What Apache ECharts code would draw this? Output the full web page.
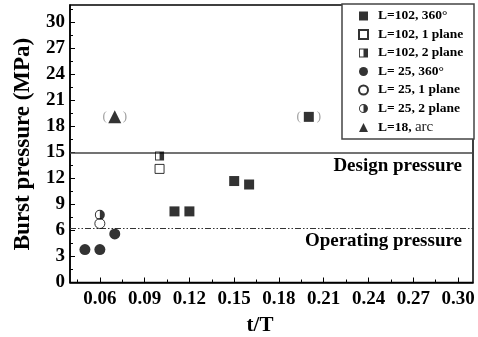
<!DOCTYPE html>
<html><head><meta charset="utf-8">
<script src="https://cdn.jsdelivr.net/npm/echarts@6/dist/echarts.min.js"></script>
<style>html,body{margin:0;padding:0;background:#fff}#c{width:478px;height:337px}</style>
</head><body><div id="c"></div>
<script>
// ---- data ----
const xTicks = [0.06, 0.09, 0.12, 0.15, 0.18, 0.21, 0.24, 0.27, 0.30];
const xMinorTicks = [0.045, 0.075, 0.105, 0.135, 0.165, 0.195, 0.225, 0.255, 0.285];
const yTicks = [0, 3, 6, 9, 12, 15, 18, 21, 24, 27, 30];
const yMinorTicks = [1.5, 4.5, 7.5, 10.5, 13.5, 16.5, 19.5, 22.5, 25.5, 28.5, 31.5];
const seriesNames = ['L=102, 360°', 'L=102, 1 plane', 'L=102, 2 plane', 'L= 25, 360°', 'L= 25, 1 plane', 'L= 25, 2 plane', 'L=18, arc'];
const l102_360 = [[0.11, 8.2], [0.12, 8.2], [0.15, 11.7], [0.16, 11.3]];
const l102_360_paren = [[0.20, 19.1]];
const l102_1p = [[0.10, 13.1]];
const l102_2p = [[0.10, 14.6]];
const l25_360 = [[0.05, 3.8], [0.06, 3.8], [0.07, 5.6]];
const l25_1p = [[0.06, 6.8]];
const l25_2p = [[0.06, 7.8]];
const l18_arc = [[0.07, 19.1]];
const designPressure = 15;
const operatingPressure = 6.2;

const FF = '"Liberation Serif", "Times New Roman", serif';
const halfSquare = 'path://M0,0 L20,0 L20,20 L0,20 Z M2,2 L2,18 L10,18 L10,2 Z';
const halfCircle = 'path://M10,0 A10,10 0 1,1 10,20 A10,10 0 1,1 10,0 Z M10,2 A8,8 0 0,0 10,18 Z';
const parenLabel = {
  show: true, position: 'inside', formatter: '{p|(}{s| }{p|)}',
  rich: { p: { fontFamily: FF, fontSize: 13, color: '#888' }, s: { width: 16 } }
};

const chart = echarts.init(document.getElementById('c'), null, { renderer: 'canvas' });
chart.setOption({
  animation: false,
  backgroundColor: '#fff',
  grid: { left: 70, right: 5, top: 5, bottom: 54.5, show: true, borderColor: '#000', borderWidth: 1.5, backgroundColor: 'transparent' },
  xAxis: [{
    type: 'value', min: 0.04, max: 0.31,
    axisLine: { show: true, onZero: false, lineStyle: { color: '#000', width: 1.5 } },
    axisTick: { show: true, inside: true, length: 5, customValues: xTicks, lineStyle: { color: '#000' } },
    axisLabel: { customValues: xTicks, formatter: v => v.toFixed(2), color: '#000', fontFamily: FF, fontWeight: 'bold', fontSize: 19, margin: 7 },
    splitLine: { show: false }
  }, {
    type: 'value', min: 0.04, max: 0.31, position: 'bottom', gridIndex: 0,
    axisLine: { show: false },
    axisTick: { show: true, inside: true, length: 3, customValues: xMinorTicks, lineStyle: { color: '#000' } },
    axisLabel: { show: false }, splitLine: { show: false }
  }],
  yAxis: [{
    type: 'value', min: 0, max: 32,
    axisLine: { show: true, onZero: false, lineStyle: { color: '#000', width: 1.5 } },
    axisTick: { show: true, inside: true, length: 5, customValues: yTicks, lineStyle: { color: '#000' } },
    axisLabel: { customValues: yTicks, color: '#000', fontFamily: FF, fontWeight: 'bold', fontSize: 19, margin: 5 },
    splitLine: { show: false }
  }, {
    type: 'value', min: 0, max: 32, position: 'left', gridIndex: 0,
    axisLine: { show: false },
    axisTick: { show: true, inside: true, length: 3, customValues: yMinorTicks, lineStyle: { color: '#000' } },
    axisLabel: { show: false }, splitLine: { show: false }
  }],
  legend: {
    orient: 'vertical', left: 358, top: 9, padding: 0, itemGap: 4.5,
    itemWidth: 9, itemHeight: 9,
    data: seriesNames,
    textStyle: { fontFamily: FF, fontWeight: 'bold', fontSize: 13.5, color: '#000', lineHeight: 14, padding: [0, 0, 0, 5],
      rich: { b: { fontFamily: FF, fontWeight: 'bold', fontSize: 13.5, color: '#000' }, r: { fontFamily: FF, fontWeight: 'normal', fontSize: 15, color: '#222' } } },
    formatter: n => n === 'L=18, arc' ? '{b|L=18,} {r|arc}' : n,
    selectedMode: false
  },
  graphic: [
    { type: 'rect', shape: { x: 342, y: 4, width: 132, height: 135 }, style: { fill: '#fff', stroke: '#444', lineWidth: 1.5 }, z: 1 },
    { type: 'text', x: 462, y: 166, style: { text: 'Design pressure', font: 'bold 19px ' + FF, fill: '#000', textAlign: 'right', textVerticalAlign: 'middle' } },
    { type: 'text', x: 462, y: 241, style: { text: 'Operating pressure', font: 'bold 19px ' + FF, fill: '#000', textAlign: 'right', textVerticalAlign: 'middle' } },
    { type: 'text', x: 260, y: 326, style: { text: 't/T', font: 'bold 21px ' + FF, fill: '#000', textAlign: 'center', textVerticalAlign: 'middle' } },
    { type: 'text', x: 23, y: 144, rotation: Math.PI / 2, style: { text: 'Burst pressure (MPa)', font: 'bold 23px ' + FF, fill: '#000', textAlign: 'center', textVerticalAlign: 'middle' } }
  ],
  series: [
    { name: seriesNames[0], type: 'scatter', symbol: 'rect', symbolSize: 10, itemStyle: { color: '#000' }, data: l102_360, z: 5,
      markLine: { silent: true, symbol: 'none', label: { show: false },
        data: [
          { yAxis: designPressure, lineStyle: { color: '#444', width: 1.5, type: 'solid' } },
          { yAxis: operatingPressure, lineStyle: { color: '#333', width: 1, type: [6, 2, 1.5, 2, 1.5, 2] } }
        ] } },
    { name: seriesNames[0], type: 'scatter', symbol: 'rect', symbolSize: 10, itemStyle: { color: '#000' }, data: l102_360_paren, label: parenLabel, z: 5 },
    { name: seriesNames[1], type: 'scatter', symbol: 'rect', symbolSize: 9, itemStyle: { color: '#fff', borderColor: '#000', borderWidth: 1 }, data: l102_1p, z: 5 },
    { name: seriesNames[2], type: 'scatter', symbol: halfSquare, symbolSize: 9, itemStyle: { color: '#000' }, data: l102_2p, z: 5 },
    { name: seriesNames[3], type: 'scatter', symbol: 'circle', symbolSize: 11, itemStyle: { color: '#000' }, data: l25_360, z: 5 },
    { name: seriesNames[4], type: 'scatter', symbol: 'circle', symbolSize: 10, itemStyle: { color: '#fff', borderColor: '#000', borderWidth: 1 }, data: l25_1p, z: 5 },
    { name: seriesNames[5], type: 'scatter', symbol: halfCircle, symbolSize: 10, itemStyle: { color: '#000' }, data: l25_2p, z: 6 },
    { name: seriesNames[6], type: 'scatter', symbol: 'triangle', symbolSize: 13, itemStyle: { color: '#000' }, data: l18_arc, label: parenLabel, z: 5 }
  ]
});
</script></body></html>
